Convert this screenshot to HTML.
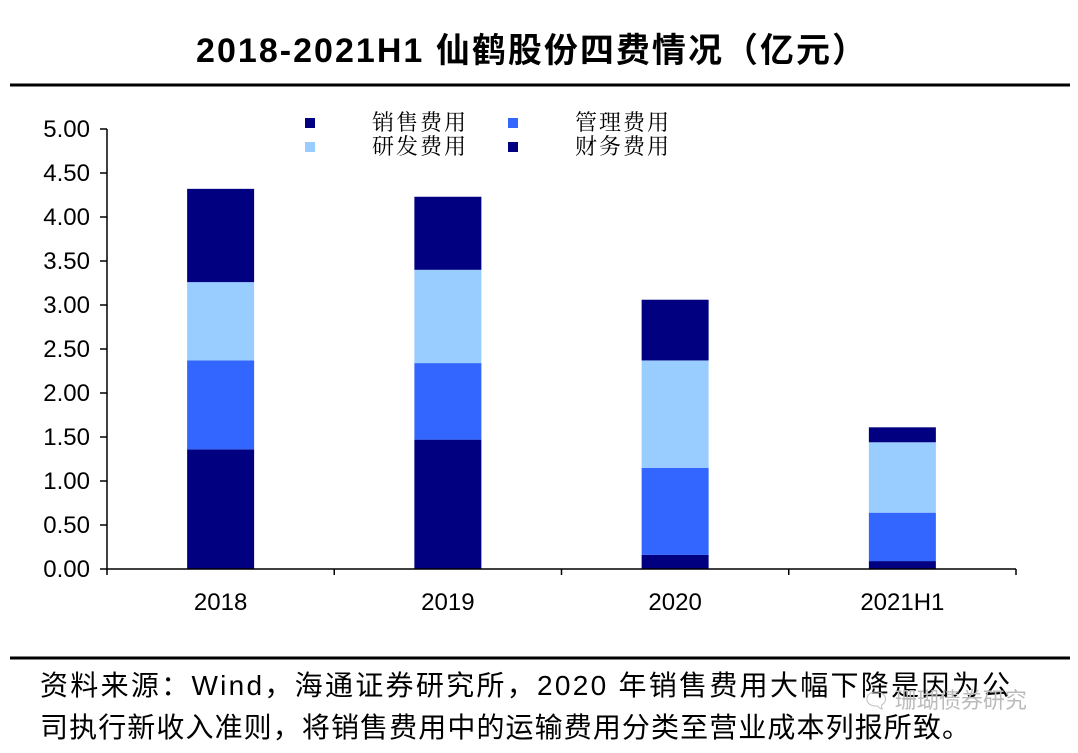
<!DOCTYPE html>
<html><head><meta charset="utf-8"><style>
body{margin:0;background:#fff;width:1078px;height:748px;overflow:hidden;font-family:"Liberation Sans","Noto Sans CJK SC",sans-serif}
</style></head><body>
<svg width="1078" height="748" xmlns="http://www.w3.org/2000/svg">
<text x="531" y="62" text-anchor="middle" font-size="34" font-weight="bold" font-family="Liberation Sans, Noto Sans CJK SC, sans-serif" textLength="670">2018-2021H1 仙鹤股份四费情况（亿元）</text>
<line x1="10" y1="85" x2="1070" y2="85" stroke="#000" stroke-width="3"/>
<g id="legend"></g>
<g id="plot"></g>
<line x1="10" y1="658" x2="1070" y2="658" stroke="#000" stroke-width="3"/>
<text x="40" y="695" font-size="28" textLength="970" font-family="Liberation Sans, Noto Sans CJK SC, sans-serif">资料来源：Wind，海通证券研究所，2020 年销售费用大幅下降是因为公</text>
<text x="40" y="737" font-size="28" textLength="930" font-family="Liberation Sans, Noto Sans CJK SC, sans-serif">司执行新收入准则，将销售费用中的运输费用分类至营业成本列报所致。</text>
<text x="862" y="708" font-size="22" fill="#bbb" font-family="Noto Sans CJK SC, sans-serif">🗨 珊瑚债券研究</text>
</svg>
<script>
const categories=["2018","2019","2020","2021H1"];
const sales=[1.36,1.47,0.16,0.09];
const mgmt=[1.01,0.87,0.99,0.55];
const rnd=[0.89,1.06,1.22,0.80];
const fin=[1.06,0.83,0.69,0.17];
const yTicks=[0,0.5,1,1.5,2,2.5,3,3.5,4,4.5,5];
const seriesNames=["销售费用","管理费用","研发费用","财务费用"];
const colors=["#000080","#3366FF","#99CCFF","#000080"];
const NS="http://www.w3.org/2000/svg";
const x0=107,x1=1016,y0=569,yTop=129,yMax=5;
const y=v=>y0-(v/yMax)*(y0-yTop);
const bw=(x1-x0)/categories.length;
const xc=i=>x0+bw*(i+0.5);
function mk(t,a,p){const e=document.createElementNS(NS,t);for(const k in a)e.setAttribute(k,a[k]);p.appendChild(e);return e;}
const plot=document.getElementById('plot');
const series=[sales,mgmt,rnd,fin];
categories.forEach((c,i)=>{let base=0;series.forEach((s,j)=>{const r=mk('rect',{x:xc(i)-33.5,y:y(base+s[i]),width:67,height:y(base)-y(base+s[i]),fill:colors[j]},plot);


base+=s[i];});
const t=mk('text',{x:xc(i),y:610,'text-anchor':'middle','font-size':24},plot);t.textContent=c;

});
const ax=mk('line',{x1:x0,y1:yTop,x2:x0,y2:y0,stroke:'#000','stroke-width':1.5},plot);


const xa=mk('line',{x1:x0,y1:y0,x2:x1,y2:y0,stroke:'#000','stroke-width':1.5},plot);


for(let i=0;i<=categories.length;i++){mk('line',{x1:x0+bw*i,y1:y0,x2:x0+bw*i,y2:y0+6,stroke:'#000','stroke-width':1.5},plot);}
yTicks.forEach(v=>{mk('line',{x1:x0-7,y1:y(v),x2:x0,y2:y(v),stroke:'#000','stroke-width':1.5},plot);
const t=mk('text',{x:90,y:y(v)+8,'text-anchor':'end','font-size':24},plot);t.textContent=v.toFixed(2);

});
const lg=document.getElementById('legend');
const pos=[[305,118],[508,118],[305,142],[508,142]];
seriesNames.forEach((n,j)=>{const p=pos[j];
mk('rect',{x:p[0],y:p[1],width:10,height:10,fill:colors[j]},lg);
const t=mk('text',{x:p[0]+67,y:p[1]+12,'font-size':22,'font-family':'Noto Serif CJK SC, serif','letter-spacing':'2'},lg);t.textContent=n;

});
</script>
</body></html>
